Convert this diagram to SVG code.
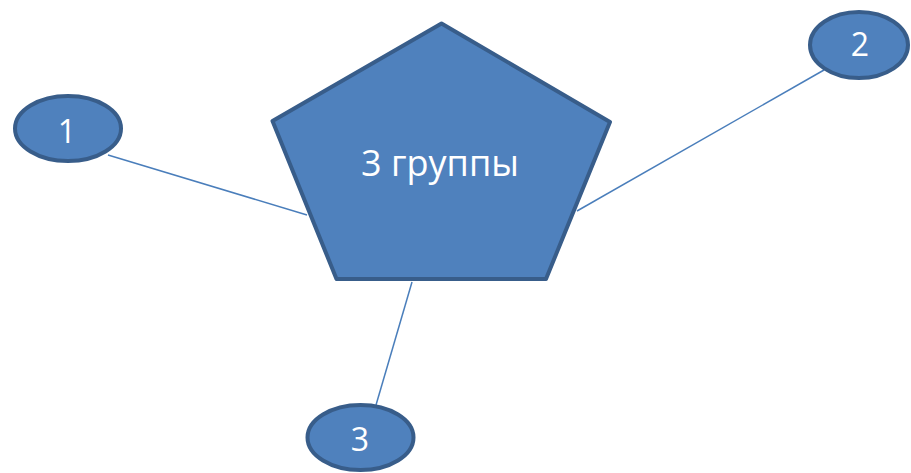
<svg xmlns="http://www.w3.org/2000/svg" width="911" height="473" viewBox="0 0 911 473">
<style>
.shape{fill:#4f81bd;stroke:#385d8a;stroke-width:4;stroke-linejoin:round}
.conn{stroke:#4a7ebb;stroke-width:1.5;fill:none}
.lbl{fill:#ffffff;font-family:"Open Sans","Liberation Sans",sans-serif;text-anchor:middle}
</style>
<rect width="911" height="473" fill="#ffffff"/>
<g id="connectors">
<line class="conn" x1="108" y1="155" x2="307" y2="215"/>
<line class="conn" x1="577" y1="211" x2="824" y2="70"/>
<line class="conn" x1="412" y1="282" x2="376" y2="405"/>
</g>
<g id="center">
<polygon class="shape" points="441.5,23.5 610,122 546,279 336.5,279 272.5,121"/>
<text class="lbl" x="440" y="176" font-size="36">3 группы</text>
</g>
<g id="n1">
<ellipse class="shape" cx="68" cy="128.5" rx="53" ry="32.5"/>
<text class="lbl" x="67" y="143" font-size="32">1</text>
</g>
<g id="n2">
<ellipse class="shape" cx="859" cy="45" rx="49" ry="33"/>
<text class="lbl" x="860" y="56" font-size="32">2</text>
</g>
<g id="n3">
<ellipse class="shape" cx="360.5" cy="437.5" rx="53" ry="32.5"/>
<text class="lbl" x="360" y="451" font-size="32">3</text>
</g>
</svg>
